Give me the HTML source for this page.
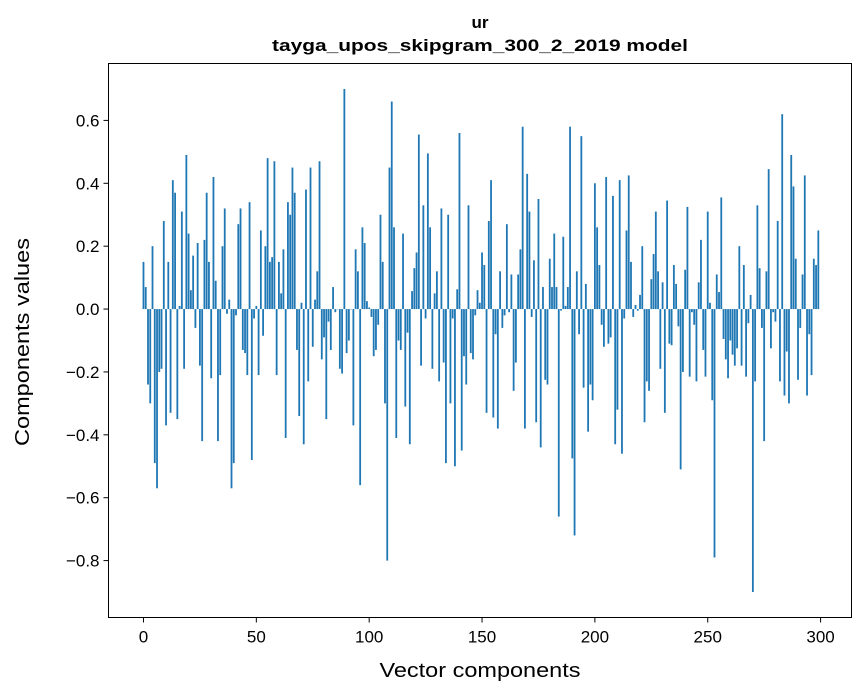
<!DOCTYPE html>
<html><head><meta charset="utf-8"><style>
html,body{margin:0;padding:0;background:#fff;}
svg{display:block;font-family:"Liberation Sans","DejaVu Sans",sans-serif;}
</style></head><body>
<svg id="chart" width="867" height="696" viewBox="0 0 867 696">
<rect width="867" height="696" fill="#fff"/>
<text x="480" y="28" text-anchor="middle" font-size="17" font-weight="bold">ur</text>
<text x="480" y="51" text-anchor="middle" font-size="17" font-weight="bold" textLength="416" lengthAdjust="spacingAndGlyphs">tayga_upos_skipgram_300_2_2019 model</text>
<g id="bars"></g>
<g id="axes"></g>
<rect x="108.5" y="63.5" width="743" height="554" fill="none" stroke="#000" stroke-width="1"/>
<text x="480" y="677" text-anchor="middle" font-size="20" textLength="201" lengthAdjust="spacingAndGlyphs">Vector components</text>
<text transform="translate(29,342) rotate(-90)" text-anchor="middle" font-size="20" textLength="208" lengthAdjust="spacingAndGlyphs">Components values</text>
</svg>
<script>
const values = [0.15,0.07,-0.24,-0.30,0.20,-0.49,-0.57,-0.20,-0.19,0.28,
-0.37,0.15,-0.33,0.41,0.37,-0.35,0.01,0.31,-0.19,0.49,
0.24,0.06,0.17,-0.06,0.21,-0.18,-0.42,0.22,0.37,0.15,
-0.22,0.42,0.09,-0.42,-0.21,0.20,0.32,-0.015,0.03,-0.57,
-0.49,-0.02,0.27,0.32,-0.13,-0.14,-0.21,0.34,-0.48,-0.03,
0.01,-0.21,0.25,-0.085,0.20,0.48,0.15,0.165,0.47,-0.21,
0.15,0.05,0.19,-0.41,0.34,0.30,0.45,0.37,-0.13,-0.34,
0.02,-0.43,0.38,-0.23,0.45,-0.12,0.03,0.12,0.47,-0.16,
-0.09,-0.35,-0.04,-0.13,0.07,-0.01,0.0,-0.19,-0.205,0.70,
-0.14,-0.10,0.0,-0.37,0.19,0.12,-0.56,0.26,0.21,0.025,
0.005,-0.025,-0.15,-0.13,-0.05,0.30,0.15,-0.30,-0.80,0.45,
0.66,0.26,-0.41,-0.10,-0.13,0.24,-0.31,-0.075,-0.43,0.057,
0.13,0.18,0.555,-0.18,0.33,-0.03,0.495,0.26,-0.19,0.05,
0.12,-0.23,0.32,-0.17,-0.49,0.30,-0.30,-0.03,-0.50,0.063,
0.56,-0.45,-0.15,-0.24,0.33,-0.14,-0.16,-0.02,0.06,0.02,
0.18,0.14,-0.33,0.28,0.41,-0.345,-0.08,-0.38,0.12,-0.06,
-0.02,0.27,-0.01,0.11,-0.26,-0.17,0.11,0.19,0.58,-0.38,
0.43,0.31,-0.025,0.155,-0.36,0.35,-0.44,0.07,-0.225,-0.24,
0.16,0.07,0.24,0.07,-0.66,-0.005,0.23,0.01,0.07,0.58,
-0.475,-0.72,0.12,-0.08,0.55,-0.25,0.08,-0.39,-0.24,-0.29,
0.40,0.26,0.14,-0.05,-0.12,0.42,-0.11,-0.09,0.36,-0.43,
-0.32,0.41,-0.46,-0.03,0.25,0.425,0.15,-0.025,0.013,-0.005,
0.045,0.20,-0.36,-0.23,-0.26,0.095,0.175,0.31,0.12,-0.19,
0.085,-0.33,0.345,-0.11,-0.115,0.14,0.08,-0.055,-0.51,-0.20,
0.125,0.325,-0.215,-0.01,-0.05,-0.23,0.085,0.22,-0.13,-0.215,
0.31,0.02,-0.29,-0.79,0.11,0.054,0.355,-0.095,-0.16,-0.22,
-0.10,-0.145,-0.18,-0.125,0.20,-0.18,0.14,-0.215,-0.045,0.045,
-0.90,-0.23,0.33,0.13,-0.06,-0.42,0.12,0.445,-0.125,-0.01,
-0.04,0.28,-0.23,0.62,-0.275,-0.135,-0.30,0.49,0.39,0.16,
-0.225,-0.06,0.11,0.425,-0.275,-0.08,-0.21,0.16,0.14,0.25];
const xTicks = [0,50,100,150,200,250,300];
const yTicks = [-0.8,-0.6,-0.4,-0.2,0.0,0.2,0.4,0.6];
const yTickLabels = ["\u22120.8","\u22120.6","\u22120.4","\u22120.2","0.0","0.2","0.4","0.6"];

const NS = "http://www.w3.org/2000/svg";
const PL = 108.5, PR = 851.5, PT = 63.5, PB = 617.5;
const xMin = -15.5, xMax = 313.7, yMin = -0.981, yMax = 0.781;
function xs(v){ return PL + (v - xMin) / (xMax - xMin) * (PR - PL); }
function ys(v){ return PB - (v - yMin) / (yMax - yMin) * (PB - PT); }

const barsG = document.getElementById('bars');
values.forEach(function(v, i){
  const r = document.createElementNS(NS, 'rect');
  const x0 = xs(i - 0.4), x1 = xs(i + 0.4);
  const y0 = ys(Math.max(v, 0)), y1 = ys(Math.min(v, 0));
  r.setAttribute('x', x0);
  r.setAttribute('width', x1 - x0);
  r.setAttribute('y', y0);
  r.setAttribute('height', Math.max(y1 - y0, 0.3));
  r.setAttribute('fill', '#1f77b4');
  
  
  barsG.appendChild(r);
});

const axG = document.getElementById('axes');
xTicks.forEach(function(t){
  const x = xs(t);
  const l = document.createElementNS(NS, 'line');
  l.setAttribute('x1', x); l.setAttribute('x2', x);
  l.setAttribute('y1', PB); l.setAttribute('y2', PB + 5);
  l.setAttribute('stroke', '#000');
  
  
  axG.appendChild(l);
  const tx = document.createElementNS(NS, 'text');
  tx.setAttribute('x', x); tx.setAttribute('y', PB + 25);
  tx.setAttribute('text-anchor', 'middle');
  tx.setAttribute('font-size', '17');
  tx.textContent = String(t);
  
  
  axG.appendChild(tx);
});
yTicks.forEach(function(t, i){
  const y = ys(t);
  const l = document.createElementNS(NS, 'line');
  l.setAttribute('x1', PL - 5); l.setAttribute('x2', PL);
  l.setAttribute('y1', y); l.setAttribute('y2', y);
  l.setAttribute('stroke', '#000');
  
  
  axG.appendChild(l);
  const tx = document.createElementNS(NS, 'text');
  tx.setAttribute('x', PL - 9); tx.setAttribute('y', y + 6);
  tx.setAttribute('text-anchor', 'end');
  tx.setAttribute('font-size', '17');
  tx.textContent = yTickLabels[i];
  
  
  axG.appendChild(tx);
});
</script>
</body></html>
